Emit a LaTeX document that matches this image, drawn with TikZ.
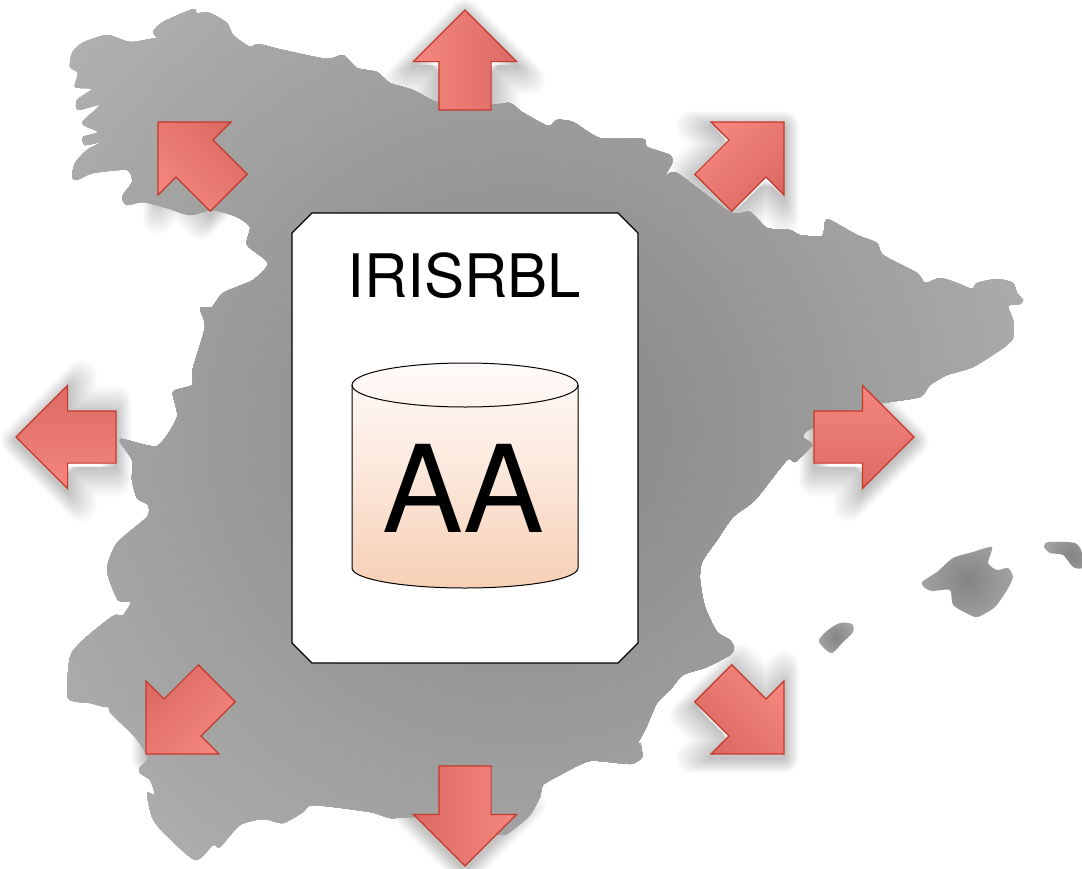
\documentclass[tikz,border=0pt]{standalone}
\usepackage{fontspec}
\setmainfont{TeX Gyre Heros}
\usetikzlibrary{shapes.arrows}
\definecolor{arrowlight}{HTML}{F5877F}
\definecolor{arrowdark}{HTML}{DB6A63}
\definecolor{arrowedge}{HTML}{C4382B}
\definecolor{cyltop}{HTML}{FFFBF9}
\definecolor{cylbot}{HTML}{F7CFB5}
\definecolor{mapdark}{HTML}{848484}
\definecolor{maplight}{HTML}{B4B4B4}
\tikzset{
  arrowshape/.style={single arrow, single arrow tip angle=90, single arrow head extend=25.5pt,
     single arrow head indent=0pt, minimum height=100pt, minimum width=102pt, inner sep=0pt, outer sep=0pt,
     text height=25.5pt, text depth=25.5pt, text width=1pt, anchor=tip},
  bigarrow/.style={arrowshape, draw=arrowedge, line width=1.2pt, top color=arrowlight, bottom color=arrowdark, miter limit=10},
  softshadow/.style={arrowshape, draw=black, draw opacity=0.014, line join=round},
  cardline/.style={draw=black, line width=1.3pt, fill=white},
  dbline/.style={draw=black, line width=1pt},
  bigtext/.style={font=\fontsize{60}{72}\selectfont, anchor=base, inner sep=0pt},
  hugetext/.style={font=\fontsize{121}{140}\selectfont, anchor=base, inner sep=0pt}
}
\begin{document}
\begin{tikzpicture}[x=1pt,y=-1pt]
\useasboundingbox (0,0) rectangle (1082,868);
\fill[white] (0,0) rectangle (1082,868);
% soft shadows, lying under the map
\foreach \n/\px/\py/\r in {a/465/10/90,b/465/866/-90,c/16/437/180,d/914/437/0,e/158/122/135,f/784/122/45,g/784/754/-45,h/146/754/-135}{
  \foreach \w in {2,4,...,30}{
    \node[softshadow, line width=\w pt, rotate=\r] (s\n\w) at (\px,\py+4) {};
  }
}
% mainland
\begin{scope}
\clip plot[smooth cycle, tension=0.4] coordinates {
(153,32)(163,22)(193,9)(197,13)(210,13)(227,23)(233,35)(250,47)(258,44)(283,50)(327,59)(343,55)
(357,68)(377,72)(390,83)(413,90)(440,103)(490,105)(510,103)(522,112)(548,126)(557,120)(573,122)(600,138)(643,139)(647,147)(670,155)
(672,163)(665,177)(677,173)(730,212)(750,212)(767,228)(790,230)(800,235)(822,236)(825,222)(830,220)(857,235)(877,243)(883,255)(917,273)(925,283)(940,278)(957,283)(972,289)(977,283)(997,279)(1013,283)(1017,293)(1023,300)(1020,304)(1008,306)(1013,320)(1013,338)(1003,348)(973,367)(947,375)(930,385)(920,397)(883,403)(870,407)(812,428)(803,437)(812,445)(795,462)(787,460)(755,500)
(733,517)(717,540)(702,562)(700,580)(705,607)(717,632)(730,640)(734,648)(730,655)(707,667)(683,675)(670,690)(657,703)(645,730)(634,750)(640,743)(642,757)(630,764)(590,761)(560,775)(543,785)(540,797)(530,815)(515,828)(503,835)(480,830)(440,820)(413,817)
(390,818)(370,812)(313,805)(303,812)(283,823)(263,819)(240,825)(220,847)(213,845)(195,860)(163,832)(152,817)(147,793)(155,795)(150,780)(140,773)(140,767)(148,758)(135,737)(110,712)(110,700)(107,707)(90,703)(68,698)(70,657)(83,640)(113,616)(123,615)(131,602)(118,600)(107,570)(117,543)(147,517)(148,505)(137,498)(132,480)(132,460)(120,439)(157,446)(177,417)(173,392)(192,385)(193,368)(205,327)(200,308)(212,307)(223,293)(253,280)(268,263)(247,245)(250,227)(237,217)(213,210)(190,215)(167,208)(143,202)(127,205)(122,197)(132,182)(127,170)(93,173)(77,180)(72,177)(75,163)(87,150)(102,142)(85,145)(83,137)(98,132)(82,123)(100,105)(78,110)(77,100)(92,89)(75,87)(78,73)(70,67)(72,53)(82,43)(107,35)(130,42)(157,38)(161,42)};
\foreach \i in {0,...,48}{
  \pgfmathsetmacro\lev{(180-\i)/255}
  \pgfmathsetmacro\rad{650-\i*13.5}
  \fill[fill={rgb,1:red,\lev;green,\lev;blue,\lev}] (520,430) circle (\rad pt);
}
\end{scope}
% Mallorca
\begin{scope}
\clip plot[smooth cycle, tension=0.4] coordinates {(922,582)(937,572)(953,558)(973,552)(992,547)(988,563)(997,570)(1008,568)(1013,577)(1007,590)(995,607)(978,617)(970,615)(953,605)(950,590)(932,591)(925,588)};
\shade[inner color=mapdark, outer color=white!25!maplight] (967,580) circle (100pt);
\end{scope}
% Ibiza
\begin{scope}
\clip plot[smooth cycle, tension=0.5] coordinates {(819,640)(828,630)(840,623)(852,624)(853,632)(843,642)(832,653)(823,647)};
\shade[inner color=mapdark, outer color=white!25!maplight] (836,637) circle (40pt);
\end{scope}
% Menorca
\begin{scope}
\clip plot[smooth cycle, tension=0.4] coordinates {(1044,547)(1048,542)(1075,543)(1082,553)(1082,568)(1073,567)(1063,555)(1050,553)};
\shade[inner color=mapdark, outer color=white!25!maplight] (1072,555) circle (60pt);
\end{scope}
% card with database
\path[cardline] (312,213) -- (618,213) -- (638,233) -- (638,643) -- (618,663) -- (312,663) -- (292,643) -- (292,233) -- cycle;
\node[bigtext] (title) at (464.5,297) {IRISRBL};
\path[top color=cyltop, bottom color=cylbot, middle color=cylbot!45!cyltop]
  (352,385) arc[start angle=180, end angle=0, x radius=113pt, y radius=22pt]
  -- (578,568) arc[start angle=360, end angle=180, x radius=113pt, y radius=20pt] -- cycle;
\draw[dbline] (352,385) -- (352,568) arc[start angle=180, end angle=360, x radius=113pt, y radius=20pt] -- (578,385);
\draw[dbline] (465,385) ellipse [x radius=113pt, y radius=22pt];
\node[hugetext] (aa) at (463,532) {AA};
% arrows
\node[bigarrow, rotate=90, shading angle=90] (north) at (465,10) {};
\node[bigarrow, rotate=-90, shading angle=-90] (south) at (465,866) {};
\node[bigarrow, rotate=180, shading angle=180] (west) at (16,437) {};
\node[bigarrow] (east) at (914,437) {};
\node[bigarrow, rotate=135, shading angle=135] (northwest) at (158,122) {};
\node[bigarrow, rotate=45, shading angle=45] (northeast) at (784,122) {};
\node[bigarrow, rotate=-45, shading angle=-45] (southeast) at (784,754) {};
\node[bigarrow, rotate=-135, shading angle=-135] (southwest) at (146,754) {};
\end{tikzpicture}
\end{document}
